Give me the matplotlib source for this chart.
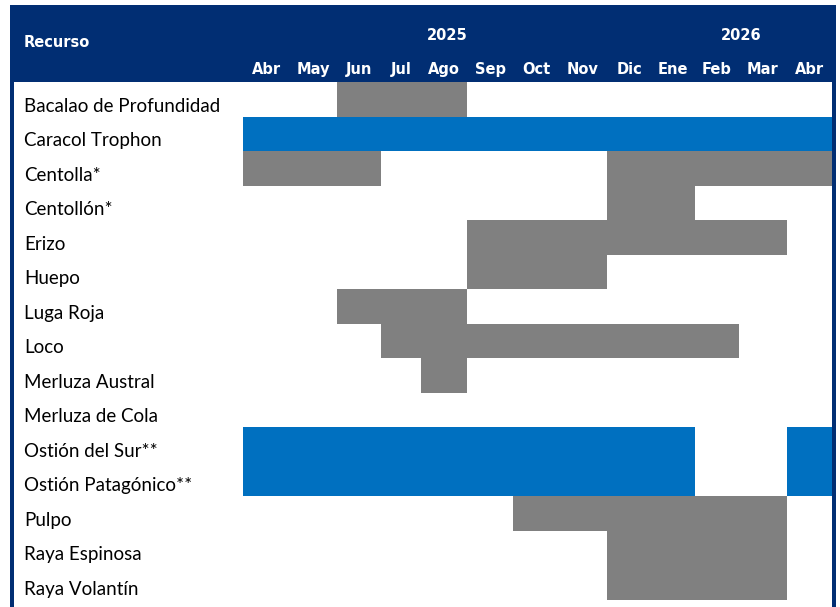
import numpy as np
import matplotlib
matplotlib.use("Agg")
import matplotlib.pyplot as plt
from matplotlib.patches import Rectangle
from matplotlib.transforms import blended_transform_factory

resources = ["Bacalao de Profundidad", "Caracol Trophon", "Centolla*", "Centollón*",
             "Erizo", "Huepo", "Luga Roja", "Loco", "Merluza Austral", "Merluza de Cola",
             "Ostión del Sur**", "Ostión Patagónico**", "Pulpo", "Raya Espinosa",
             "Raya Volantín"]
months = ["Abr", "May", "Jun", "Jul", "Ago", "Sep", "Oct", "Nov", "Dic",
          "Ene", "Feb", "Mar", "Abr"]
years = ["2025", "2026"]
year_spans = [(0, 9), (9, 13)]

# (first month index, last month index exclusive)
gray_spans = {
    "Bacalao de Profundidad": [(2, 5)],
    "Centolla*": [(0, 3), (8, 13)],
    "Centollón*": [(8, 10)],
    "Erizo": [(5, 12)],
    "Huepo": [(5, 8)],
    "Luga Roja": [(2, 5)],
    "Loco": [(3, 11)],
    "Merluza Austral": [(4, 5)],
    "Pulpo": [(6, 12)],
    "Raya Espinosa": [(8, 12)],
    "Raya Volantín": [(8, 12)],
}
blue_spans = {
    "Caracol Trophon": [(0, 13)],
    "Ostión del Sur**": [(0, 10), (12, 13)],
    "Ostión Patagónico**": [(0, 10), (12, 13)],
}

NAVY = "#012e73"
BLUE = "#0070c0"
GRAY = "#808080"
W, H = 840, 607
ROW_PX = 34.5
# table column edges in pixels (columns are sized to their header text)
COL_EDGES = np.array([243, 290, 337, 381, 421, 467, 513, 559, 607, 651, 695, 739, 787, 832])
GRID_W = COL_EDGES[-1] - COL_EDGES[0]

plt.rcParams["font.family"] = ["Lato", "DejaVu Sans"]


def fx(px):
    return px / W


def fy(py):
    return 1 - py / H


fig = plt.figure(figsize=(W / 100, H / 100), dpi=100)
fig.patch.set_facecolor("white")

# header band and side borders
for x0, y0, w, h in [(fx(10), fy(82), fx(826), 77 / H),
                     (fx(10), 0, fx(4), fy(82)),
                     (fx(832), 0, fx(4), fy(82))]:
    fig.patches.append(Rectangle((x0, y0), w, h, transform=fig.transFigure,
                                 facecolor=NAVY, edgecolor="none", zorder=-1))

ax = fig.add_axes([fx(COL_EDGES[0]), 0, fx(GRID_W), (H - 82) / H])
ax.set_xlim(0, GRID_W)
ax.set_ylim((H - 82) / ROW_PX, 0)
ax.axis("off")

x_edges = COL_EDGES - COL_EDGES[0]

for i, res in enumerate(resources):
    for spans, col in [(gray_spans.get(res, []), GRAY), (blue_spans.get(res, []), BLUE)]:
        for a, b in spans:
            ax.broken_barh([(x_edges[a], x_edges[b] - x_edges[a])], (i, 1),
                           facecolors=col, edgecolor="none")

# row labels
lab_tr = blended_transform_factory(fig.transFigure, ax.transData)
for i, res in enumerate(resources):
    ax.text(fx(24), i + 0.86, res, transform=lab_tr, ha="left", va="baseline",
            fontsize=13.5, color="black", clip_on=False)

# header texts
hdr_tr = blended_transform_factory(ax.transData, fig.transFigure)
hdr_font = dict(family="DejaVu Sans", fontsize=10.5, fontweight="bold", color="white")
centers = (x_edges[:-1] + x_edges[1:]) / 2
for c, m in zip(centers, months):
    ax.text(c, fy(74), m, transform=hdr_tr, ha="center", va="baseline",
            clip_on=False, **hdr_font)
for y, (a, b) in zip(years, year_spans):
    ax.text((x_edges[a] + x_edges[b]) / 2, fy(40.5), y, transform=hdr_tr,
            ha="center", va="baseline", clip_on=False, **hdr_font)
fig.text(fx(24), fy(47), "Recurso", ha="left", va="baseline", **hdr_font)

fig.savefig("out.png", dpi=100)
